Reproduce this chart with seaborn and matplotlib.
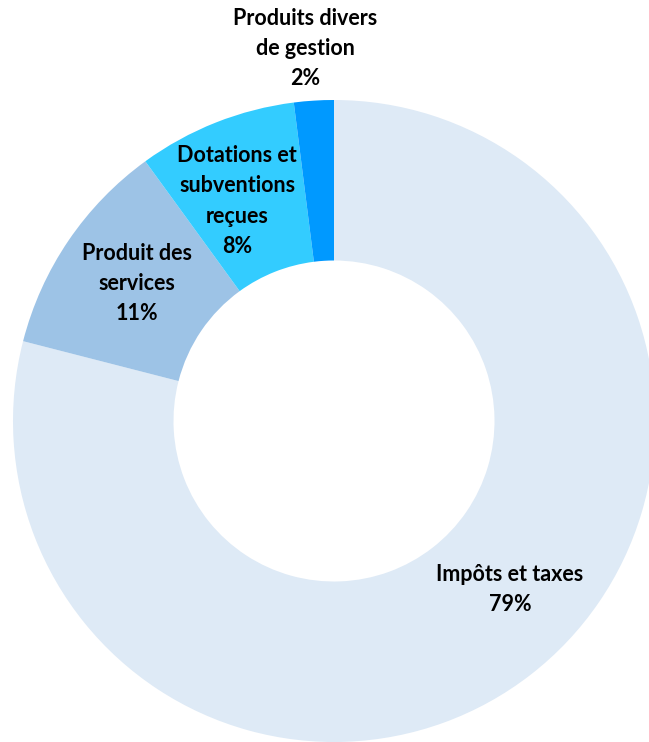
import matplotlib
matplotlib.use("Agg")
import matplotlib.pyplot as plt
import seaborn as sns

categories = ["Impôts et taxes", "Produit des\nservices", "Dotations et\nsubventions\nreçues", "Produits divers\nde gestion"]
values = [79, 11, 8, 2]
colors = ["#DEEAF6", "#9DC3E6", "#33CCFF", "#0099FF"]
label_pos = [(0.548, -0.525), (-0.614, 0.428), (-0.302, 0.685), (-0.09, 1.16)]

sns.set_theme(style="white")
plt.rcParams["font.family"] = ["Lato", "DejaVu Sans"]

W, H = 649, 742
cx, cy, R = 334, 421, 321
fig = plt.figure(figsize=(W / 100, H / 100), dpi=100)
ax = fig.add_axes([0, 0, 1, 1])
ax.pie(values, colors=colors, startangle=90, counterclock=False, radius=1.0,
       wedgeprops=dict(width=0.5, linewidth=0))
ax.set_xlim(-cx / R, (W - cx) / R)
ax.set_ylim(-(H - cy) / R, cy / R)
ax.set_aspect("equal")
ax.axis("off")

total = sum(values)
for cat, v, (x, y) in zip(categories, values, label_pos):
    ax.text(x, y, f"{cat}\n{round(100 * v / total)}%", ha="center", va="center",
            fontsize=15.5, fontweight="bold", color="black", linespacing=1.55)

fig.savefig("out.png", dpi=100, facecolor="white")
